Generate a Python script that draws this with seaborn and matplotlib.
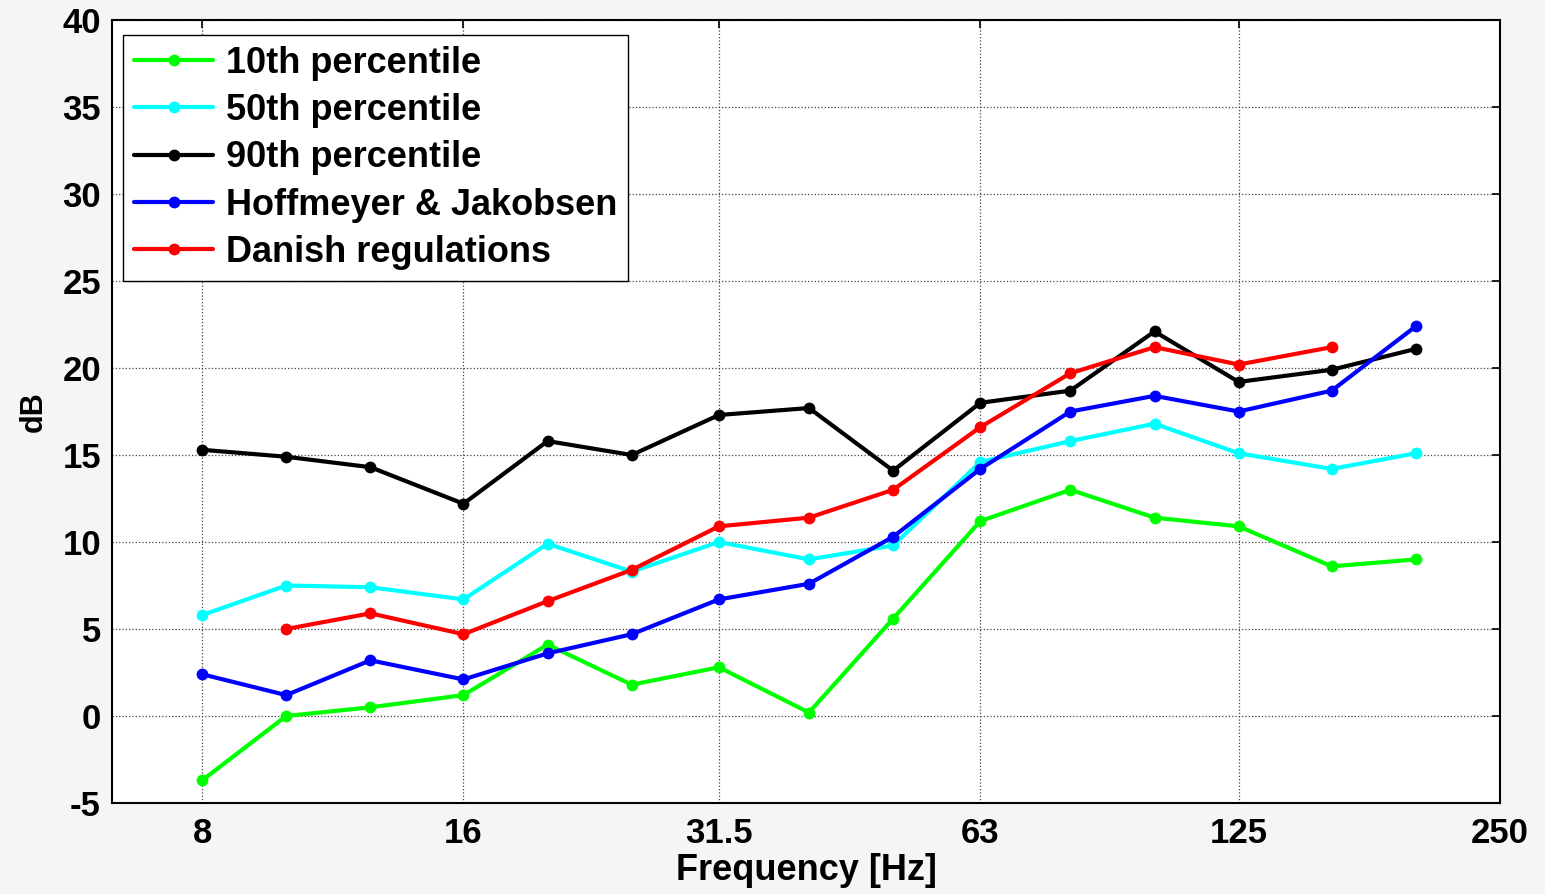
import matplotlib
matplotlib.use("Agg")
import matplotlib.pyplot as plt
import seaborn as sns
import numpy as np
import pandas as pd

freqs = [8, 10, 12.5, 16, 20, 25, 31.5, 40, 50, 63, 80, 100, 125, 160, 200]
p10 = [-3.7, 0.0, 0.5, 1.2, 4.1, 1.8, 2.8, 0.2, 5.6, 11.2, 13.0, 11.4, 10.9, 8.6, 9.0]
p50 = [5.8, 7.5, 7.4, 6.7, 9.9, 8.3, 10.0, 9.0, 9.8, 14.6, 15.8, 16.8, 15.1, 14.2, 15.1]
p90 = [15.3, 14.9, 14.3, 12.2, 15.8, 15.0, 17.3, 17.7, 14.1, 18.0, 18.7, 22.1, 19.2, 19.9, 21.1]
hj = [2.4, 1.2, 3.2, 2.1, 3.6, 4.7, 6.7, 7.6, 10.3, 14.2, 17.5, 18.4, 17.5, 18.7, 22.4]
danish_freqs = [10, 12.5, 16, 20, 25, 31.5, 40, 50, 63, 80, 100, 125, 160]
danish = [5.0, 5.9, 4.7, 6.6, 8.4, 10.9, 11.4, 13.0, 16.6, 19.7, 21.2, 20.2, 21.2]

xticks = [8, 16, 31.5, 63, 125, 250]
xticklabels = ["8", "16", "31.5", "63", "125", "250"]

sns.set_theme(style="white")
plt.rcParams['font.family'] = ['Liberation Sans', 'DejaVu Sans']
plt.rcParams['font.weight'] = 'bold'
plt.rcParams['text.color'] = 'black'
plt.rcParams['axes.labelcolor'] = 'black'
plt.rcParams['xtick.color'] = 'black'
plt.rcParams['ytick.color'] = 'black'
plt.rcParams['axes.unicode_minus'] = False

fig = plt.figure(figsize=(15.45, 8.94), dpi=100, facecolor='#f5f5f5')
ax = fig.add_axes([0.0725, 0.1018, 0.8984, 0.8758])
ax.set_facecolor('white')

series = [
    ("10th percentile", freqs, p10, "#00ff00"),
    ("50th percentile", freqs, p50, "#00ffff"),
    ("90th percentile", freqs, p90, "#000000"),
    ("Hoffmeyer & Jakobsen", freqs, hj, "#0000ff"),
    ("Danish regulations", danish_freqs, danish, "#ff0000"),
]
for label, xs, ys, col in series:
    df = pd.DataFrame({"f": xs, "v": ys})
    sns.lineplot(data=df, x="f", y="v", ax=ax, color=col, label=label,
                 marker='o', markersize=8.5, markeredgewidth=0, linewidth=3,
                 estimator=None, sort=False)

ax.set_xscale('log')
ax.set_xlim(6.3, 250)
ax.set_ylim(-5, 40)
ax.set_xticks(xticks)
ax.set_xticklabels(xticklabels)
ax.minorticks_off()
ax.set_yticks(np.arange(-5, 41, 5))
ax.tick_params(axis='both', which='major', direction='in', length=6, width=1.2,
               top=True, right=True, labelsize=25, color='black', labelcolor='black')
ax.tick_params(axis='x', pad=10)
ax.tick_params(axis='y', pad=8)
for lab in ax.get_xticklabels() + ax.get_yticklabels():
    lab.set_fontweight('bold')
ax.grid(True, which='major', linestyle=':', color='#444444', linewidth=0.9)
for sp in ax.spines.values():
    sp.set_color('black')
    sp.set_linewidth(1.5)
    sp.set_visible(True)

ax.set_xlabel("Frequency [Hz]", fontsize=26, fontweight='bold', labelpad=2, color='black')
ax.set_ylabel("dB", fontsize=22, fontweight='bold', labelpad=10, color='black')

leg = ax.legend(loc='upper left', bbox_to_anchor=(0.008, 0.981), fontsize=26,
                frameon=True, fancybox=False, framealpha=1, edgecolor='black',
                handlelength=2.2, handletextpad=0.35, labelspacing=0.34,
                borderpad=0.3, borderaxespad=0)
leg.get_frame().set_linewidth(1.0)
for t in leg.get_texts():
    t.set_fontweight('bold')
    t.set_color('black')

fig.savefig("out.png", dpi=100, facecolor=fig.get_facecolor())
